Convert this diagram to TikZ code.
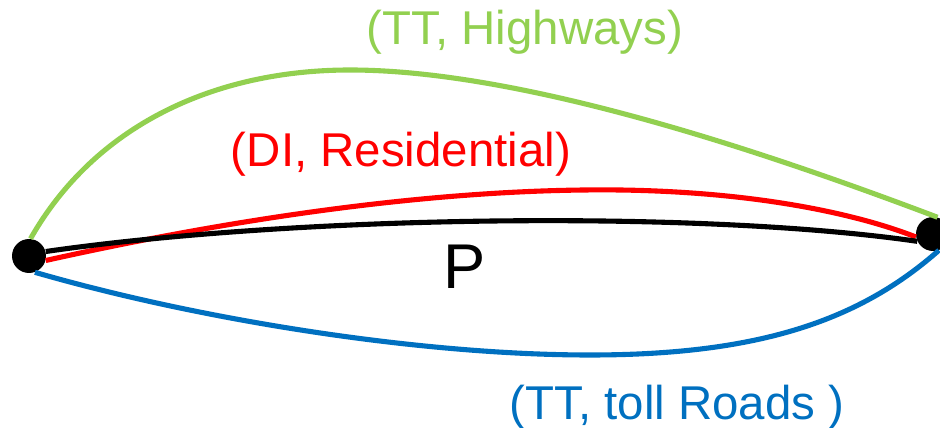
\documentclass[tikz,border=0pt]{standalone}
\usepackage{fontspec}
\setmainfont{Liberation Sans}
\usetikzlibrary{positioning}
\definecolor{hwgreen}{RGB}{146,208,80}
\definecolor{tollblue}{RGB}{0,112,192}
\tikzset{%
  endpoint/.style   = {circle, fill=black, inner sep=0pt, minimum size=0.68cm},%
  route/.style      = {line width=2.9pt},%
  routelabel/.style = {anchor=base, font=\fontsize{27}{31}\selectfont}%
}
\begin{document}
\begin{tikzpicture}[x=0.02cm, y=-0.02cm]
  \useasboundingbox (0,0) rectangle (940,428);
  % end points
  \node[endpoint] (src) at (29,256) {};
  \node[endpoint] (dst) at (933,234) {};
  % routes
  \draw[route, hwgreen] (src.85) .. controls (95,125) and (215,70) .. (350,70)
                        .. controls (520,70) and (760,150) .. (dst.75);
  \draw[route, red] (src.-15) .. controls (250,215) and (450,188) .. (620,190)
                    .. controls (760,192) and (860,215) .. (dst.190);
  \draw[route, black] (src.15) .. controls (300,215) and (700,210) .. (dst.205);
  \draw[route, tollblue] (src.-70) .. controls (200,320) and (420,355) .. (590,355)
                         .. controls (760,355) and (860,320) .. (dst.-70);
  % labels
  \node[routelabel, text=hwgreen] (hw) at (525,45) {(TT, Highways)};
  \node[routelabel, text=red] (res) at (401,167) {(DI, Residential)};
  \node[routelabel, font=\fontsize{36}{40}\selectfont] (p) at (465,289) {P};
  \node[routelabel, text=tollblue] (toll) at (677,420) {(TT, toll Roads )};
\end{tikzpicture}
\end{document}
